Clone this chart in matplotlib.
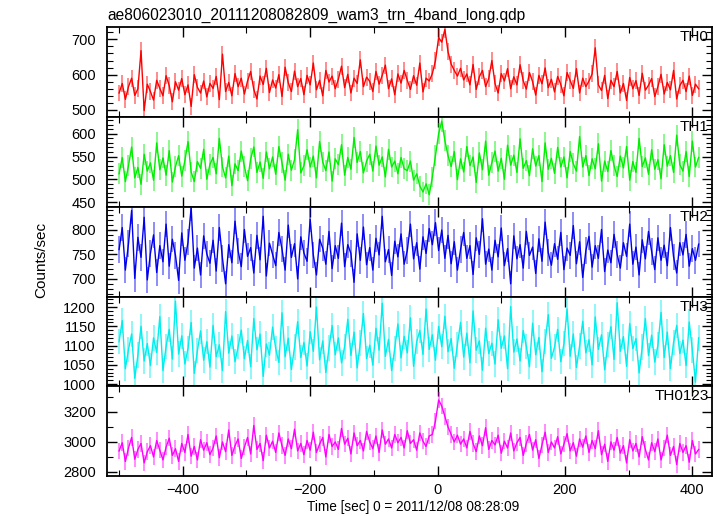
import numpy as np
import matplotlib
matplotlib.use("Agg")
import matplotlib.pyplot as plt
from matplotlib.ticker import MultipleLocator

plt.rcParams['font.family'] = ['Liberation Sans', 'DejaVu Sans']

title = "ae806023010_20111208082809_wam3_trn_4band_long.qdp"
xlabel = "Time [sec] 0 = 2011/12/08 08:28:09"
ylabel = "Counts/sec"
band_names = ["TH0", "TH1", "TH2", "TH3", "TH0123"]
band_colors = ["#ff0000", "#00ee00", "#0000ee", "#00eeee", "#ff00ff"]
band_errs = [24, 23, 27, 33, 55]
t_start, t_end = -500, 410

th0 = [548,575,530,566,590,541,560,668,498,573,
       552,528,584,561,540,597,569,523,580,556,
       589,543,571,510,600,564,548,582,537,575,
       561,595,529,658,552,578,540,603,566,590,
       545,582,609,558,531,596,572,618,549,585,
       562,600,538,621,577,552,610,566,589,543,
       598,571,633,557,584,540,612,579,596,560,
       587,624,563,601,548,590,575,642,566,593,
       581,552,609,573,598,627,560,588,543,602,
       576,612,584,558,597,570,633,551,590,582,
       603,640,705,692,728,665,630,612,596,618,
       585,602,571,629,558,594,612,566,589,640,
       575,548,603,582,617,560,594,571,628,583,
       559,606,580,542,598,574,619,563,587,551,
       595,572,540,606,583,561,617,548,590,566,
       582,602,676,571,555,598,532,584,566,609,
       548,575,527,592,560,583,541,604,556,570,
       589,538,566,601,545,578,557,612,531,569,
       584,552,596,541,573,560]

th1 = [512,548,495,530,571,503,526,489,555,518,
       536,498,580,521,547,509,563,494,528,552,
       507,541,583,516,495,539,524,566,500,533,
       548,512,590,527,503,551,486,534,519,562,
       528,497,545,571,515,538,502,560,523,549,
       511,572,536,498,555,520,543,609,514,530,
       565,527,551,503,583,538,519,560,496,545,
       532,576,509,548,522,592,537,561,514,540,
       555,518,573,531,549,505,566,527,540,512,
       548,523,519,540,498,512,485,472,490,466,
       505,552,600,628,585,552,528,561,499,545,
       516,572,530,549,493,558,521,584,509,537,
       562,518,546,500,575,531,553,515,589,524,
       541,508,567,529,552,495,580,522,546,513,
       570,527,549,503,561,534,518,594,527,552,
       508,545,523,578,496,540,517,563,530,506,
       551,525,572,498,539,515,590,528,547,511,
       565,522,543,501,576,529,552,515,597,532,
       518,561,506,584,527,548]

th2 = [760,805,718,772,840,701,785,744,826,698,
       752,790,713,768,735,812,726,781,748,697,
       794,738,775,846,722,763,708,788,751,732,
       779,716,805,742,690,770,733,818,757,725,
       801,746,764,712,789,739,828,706,773,750,
       727,795,761,718,810,744,772,700,786,753,
       736,822,749,708,781,763,730,797,721,768,
       742,814,725,770,752,693,792,738,806,729,
       764,718,783,749,828,735,760,707,777,745,
       792,730,758,812,741,774,720,786,752,803,
       770,815,758,800,742,789,731,776,718,760,
       795,742,768,709,784,750,823,730,761,718,
       779,745,804,727,762,690,788,741,770,722,
       797,748,765,711,782,736,816,754,728,772,
       740,795,719,763,748,809,731,776,703,758,
       787,724,768,742,801,715,759,733,791,750,
       722,774,746,812,730,765,708,780,741,797,
       756,719,784,738,769,727,805,745,712,774,
       749,791,726,762,738,771]

th3 = [1110,1165,1040,1090,1130,1015,1075,1150,1060,1105,
       1048,1120,1082,1175,1035,1098,1142,1065,1215,1078,
       1125,1052,1093,1160,1028,1087,1138,1062,1110,1044,
       1152,1071,1102,1035,1188,1080,1125,1058,1097,1140,
       1066,1113,1045,1170,1089,1130,1020,1104,1075,1148,
       1092,1056,1185,1071,1119,1038,1096,1162,1069,1108,
       1047,1136,1085,1200,1063,1112,1030,1094,1152,1076,
       1120,1055,1098,1168,1074,1135,1042,1107,1183,1066,
       1101,1049,1145,1088,1210,1072,1116,1035,1093,1156,
       1068,1124,1081,1172,1046,1110,1139,1077,1195,1090,
       1128,1062,1150,1097,1176,1084,1118,1041,1103,1160,
       1070,1132,1055,1190,1088,1112,1036,1145,1079,1106,
       1052,1167,1093,1125,1040,1201,1083,1117,1060,1139,
       1098,1045,1158,1076,1121,1032,1110,1180,1067,1096,
       1142,1058,1105,1195,1072,1130,1043,1099,1163,1081,
       1115,1050,1174,1090,1128,1037,1102,1149,1064,1211,
       1085,1123,1046,1157,1092,1118,1029,1096,1170,1074,
       1127,1057,1101,1186,1069,1135,1040,1108,1152,1079,
       1114,1048,1161,1088,1005,1120]

th0123 = [2940,2995,2870,2960,3030,2885,2950,2990,2860,2935,
          2975,2900,3010,2945,2880,2965,3025,2910,2955,2870,
          2990,2930,3050,2905,2970,2880,3015,2945,2995,2915,
          2960,3040,2895,3000,2935,3080,2910,2975,3020,2890,
          2965,3030,2920,3110,2950,2990,2875,3045,2960,3005,
          2930,3060,2975,2910,3020,2955,3085,2940,2990,2915,
          3010,2945,3065,2930,2985,3030,2900,3050,2970,3000,
          2950,3090,2985,3025,2920,3060,2975,3010,2940,3070,
          3000,2955,3040,2930,3080,2985,3020,2960,3050,2995,
          3030,2960,3075,2990,3015,2945,3060,3005,2970,3040,
          3050,3140,3280,3240,3170,3100,3050,3000,3045,2985,
          3020,2960,3070,2990,2935,3040,2975,3095,2950,3010,
          2980,3045,2925,3005,2960,3060,2940,2995,3030,2910,
          2990,3050,2945,3015,2890,2980,3065,2930,3000,2960,
          3035,2920,2985,3055,2940,2995,2905,3020,2965,3040,
          2930,3010,2955,3075,2915,2985,2870,3000,2945,3030,
          2925,2975,2860,3015,2940,2990,2900,3035,2950,2880,
          2995,2935,3020,2880,2960,3045,2910,2970,2850,2990,
          2930,2975,2865,3010,2920,2950]

series = [th0, th1, th2, th3, th0123]
ylims = [(480, 735), (439, 637), (663, 847), (995, 1226), (2773, 3373)]
majors = [100, 50, 50, 50, 200]
minors = [20, 10, 10, 10, 100]

W, H = 717, 516
fig = plt.figure(figsize=(W / 100, H / 100), dpi=100)
left_px, right_px = 107, 712
edges = [27, 117, 207, 297, 386, 476]

axes = []
for k in range(5):
    top, bot = edges[k], edges[k + 1]
    ax = fig.add_axes([left_px / W, 1 - bot / H, (right_px - left_px) / W, (bot - top) / H])
    axes.append(ax)
    y = np.array(series[k], dtype=float)
    t = np.linspace(t_start, t_end, len(y))
    col = band_colors[k]
    ax.errorbar(t, y, yerr=band_errs[k], fmt='none', ecolor=col, alpha=0.45, elinewidth=1.4)
    ax.plot(t, y, color=col, lw=1.0)
    ax.set_xlim(-519, 431)
    ax.set_ylim(*ylims[k])
    ax.yaxis.set_major_locator(MultipleLocator(majors[k]))
    ax.yaxis.set_minor_locator(MultipleLocator(minors[k]))
    ax.xaxis.set_major_locator(MultipleLocator(200))
    ax.xaxis.set_minor_locator(MultipleLocator(100))
    ax.tick_params(which='both', direction='in', top=True, right=True, labelsize=10.5)
    ax.tick_params(axis='y', which='major', pad=8)
    ax.tick_params(axis='x', which='major', pad=5)
    ax.tick_params(which='major', length=7, width=1)
    ax.tick_params(which='minor', length=4, width=0.8)
    for s in ax.spines.values():
        s.set_linewidth(1.3)
    if k < 4:
        ax.tick_params(labelbottom=False)
    ax.text(0.995, 0.97, band_names[k], transform=ax.transAxes, ha='right', va='top', fontsize=11)

fig.text(413 / W, 1 - 507 / H, xlabel, ha='center', va='center', fontsize=9.8)
fig.text(41 / W, 1 - 260 / H, ylabel, rotation=90, ha='center', va='center', fontsize=11)
fig.text(left_px / W, 1 - 15 / H, title, ha='left', va='center', fontsize=11.2)

fig.savefig("out.png", dpi=100)
